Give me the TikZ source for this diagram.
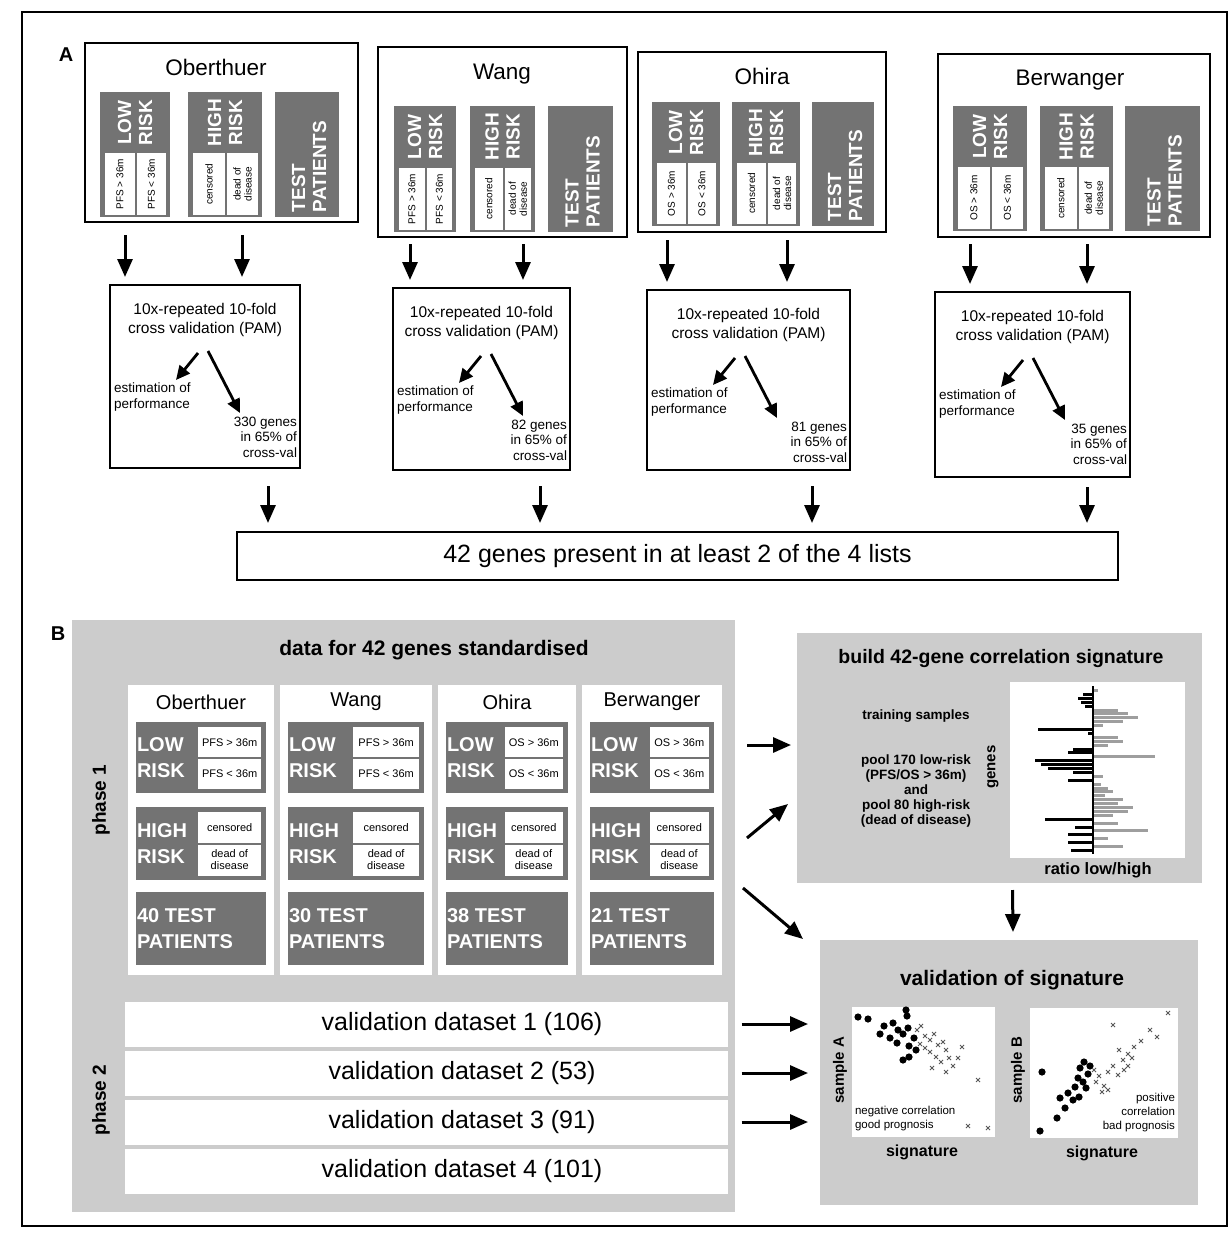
\documentclass[tikz,border=0pt]{standalone}
\usepackage{fontspec}
\setmainfont{Liberation Sans}
\usetikzlibrary{arrows.meta,calc}
\definecolor{darkg}{gray}{0.45}
\definecolor{panelg}{gray}{0.80}
\definecolor{barg}{gray}{0.62}
\newcommand{\fs}[2]{\fontsize{#1pt}{#2pt}\selectfont}
\tikzset{
  every node/.style={inner sep=0pt,outer sep=0pt},
  bx/.style={draw=black,line width=2.6pt,fill=white},
  cvb/.style={draw=black,line width=2.4pt,fill=white},
  arr/.style={-{Triangle[length=18pt,width=15pt]},line width=3pt},
  sarr/.style={-{Triangle[length=14pt,width=13pt]},line width=2.8pt},
  ttl/.style={font=\fs{22.5}{24}},
  cvt/.style={font=\fs{15.5}{19},align=center},
  smt/.style={font=\fs{13.5}{15.5}},
  bigw/.style={text=white,font=\bfseries\fs{19}{21},align=center},
  bigB/.style={text=white,font=\bfseries\fs{20}{26}},
  tinyA/.style={font=\fs{10}{11},align=center},
  tinyB/.style={font=\fs{11}{12},align=center},
  coltt/.style={font=\fs{20}{22}},
  rowb/.style={fill=white,minimum width=603pt,minimum height=45pt},
  rowt/.style={font=\fs{25}{27}},
  dot/.style={fill=black},
}
% part A: data set box
\newcommand{\dsA}[5]{%
  \node[bx,anchor=north west,minimum width={((#4)-(#2))*1pt},minimum height={((#5)-(#3))*1pt}] (#1) at (#2,#3) {};
}
% part A: vertical risk box
\newcommand{\vrisk}[8]{%
  \fill[darkg] ({#2},{#3}) rectangle ({(#2)+(#4)},{#5});
  \pgfmathsetmacro{\vsy}{(#3)+0.49*((#5)-(#3))}
  \pgfmathsetmacro{\vxm}{(#2)+(#4)/2}
  \fill[white] ({(#2)+5},{\vsy}) rectangle ({\vxm},{(#5)-2});
  \fill[white] ({\vxm+2},{\vsy}) rectangle ({(#2)+(#4)-4},{(#5)-2});
  \node[rotate=90,bigw] (#1-l) at ({\vxm},{((#3)+\vsy)/2}) {#6};
  \node[rotate=90,tinyA] (#1-a) at ({((#2)+5+\vxm)/2},{(\vsy+(#5)-2)/2}) {#7};
  \node[rotate=90,tinyA] (#1-b) at ({(\vxm+2+(#2)+(#4)-4)/2},{(\vsy+(#5)-2)/2}) {#8};
}
\newcommand{\vtest}[5]{%
  \fill[darkg] ({#2},{#3}) rectangle ({(#2)+(#4)},{#5});
  \node[rotate=90,bigw,align=left,anchor=west] (#1) at ({(#2)+(#4)/2+2},{(#5)-5}) {TEST\\PATIENTS};
}
% part A: cross validation box
\newcommand{\cvbox}[6]{%
  \node[cvb,anchor=north west,minimum width={((#4)-(#2))*1pt},minimum height={((#5)-(#3))*1pt}] (#1) at (#2,#3) {};
  \node[cvt] (#1-t) at ({((#2)+(#4))/2},{(#3)+35}) {10x-repeated 10-fold\\cross validation (PAM)};
  \draw[sarr] ($(#1.north west)+(88,68)$) -- ($(#1.north west)+(66,95)$);
  \draw[sarr] ($(#1.north west)+(98,66)$) -- ($(#1.north west)+(130,128)$);
  \node[smt,anchor=north west,align=left] (#1-e) at ($(#1.north west)+(4,98)$) {estimation of\\performance};
  \node[smt,anchor=north east,align=right] (#1-g) at ($(#1.north east)+(-3,132)$) {#6 genes\\in 65\% of\\cross-val};
}
% part B: horizontal risk box
\newcommand{\hrisk}[8]{%
  \fill[darkg] ({#2},{#3}) rectangle ({(#2)+(#4)},{(#3)+(#5)});
  \pgfmathsetmacro{\hxa}{(#2)+0.48*(#4)}
  \pgfmathsetmacro{\hxb}{(#2)+(#4)-5}
  \pgfmathsetmacro{\hya}{(#3)+5}
  \pgfmathsetmacro{\hym}{(#3)+(#5)/2}
  \pgfmathsetmacro{\hyb}{(#3)+(#5)-4}
  \fill[white] ({\hxa},{\hya}) rectangle ({\hxb},{\hym-1});
  \fill[white] ({\hxa},{\hym+1}) rectangle ({\hxb},{\hyb});
  \node[bigB,anchor=west,align=left] (#1-l) at ({(#2)+1},{\hym}) {#6};
  \node[tinyB] (#1-a) at ({(\hxa+\hxb)/2},{(\hya+\hym)/2}) {#7};
  \node[tinyB] (#1-b) at ({(\hxa+\hxb)/2},{(\hym+\hyb)/2}) {#8};
}
\newcommand{\colB}[7]{%
  \node[fill=white,anchor=north west,minimum width={(#3)*1pt},minimum height=290pt] (#1) at (#2,685) {};
  \node[coltt] (#1-t) at ({(#2)+(#3)/2},702) {#4};
  \hrisk{#1-low}{(#2)+8}{722}{(#3)-16}{71}{LOW\\RISK}{#5}{#6}
  \hrisk{#1-high}{(#2)+8}{807}{(#3)-16}{73}{HIGH\\RISK}{censored}{dead of\\disease}
  \fill[darkg] ({(#2)+8},892) rectangle ({(#2)+(#3)-8},965);
  \node[bigB,align=left,anchor=west] (#1-test) at ({(#2)+9},929) {#7 TEST\\PATIENTS};
}
\begin{document}
\begin{tikzpicture}[x=1pt,y=-1pt]
\useasboundingbox (0,0) rectangle (1230,1244);
\fill[white] (0,0) rectangle (1230,1244);
\draw[line width=1.2pt] (22,12) rectangle (1227,1226);

%================ PART A ================
\node[font=\bfseries\fs{20}{20}] (lA) at (66,55) {A};

\dsA{ob}{85}{43}{358}{222}
\node[ttl] (ob-t) at (216,67) {Oberthuer};
\vrisk{ob-low}{100}{92}{70}{217}{LOW\\RISK}{PFS > 36m}{PFS < 36m}
\vrisk{ob-high}{188}{92}{74}{217}{HIGH\\RISK}{censored}{dead of\\disease}
\vtest{ob-test}{275}{92}{64}{217}

\dsA{wa}{378}{47}{627}{237}
\node[ttl] (wa-t) at (502,74) {Wang};
\vrisk{wa-low}{394}{106}{62}{232}{LOW\\RISK}{PFS > 36m}{PFS < 36m}
\vrisk{wa-high}{470}{106}{65}{232}{HIGH\\RISK}{censored}{dead of\\disease}
\vtest{wa-test}{548}{106}{65}{232}

\dsA{oh}{638}{52}{886}{232}
\node[ttl] (oh-t) at (762,76) {Ohira};
\vrisk{oh-low}{652}{102}{68}{226}{LOW\\RISK}{OS > 36m}{OS < 36m}
\vrisk{oh-high}{732}{102}{68}{226}{HIGH\\RISK}{censored}{dead of\\disease}
\vtest{oh-test}{812}{102}{62}{226}

\dsA{be}{938}{54}{1210}{237}
\node[ttl] (be-t) at (1070,80) {Berwanger};
\vrisk{be-low}{953}{106}{74}{231}{LOW\\RISK}{OS > 36m}{OS < 36m}
\vrisk{be-high}{1040}{106}{73}{231}{HIGH\\RISK}{censored}{dead of\\disease}
\vtest{be-test}{1125}{106}{75}{231}

\cvbox{obcv}{110}{285}{300}{468}{330}
\cvbox{wacv}{393}{288}{570}{470}{82}
\cvbox{ohcv}{647}{290}{850}{470}{81}
\cvbox{becv}{935}{292}{1130}{477}{35}

% arrow columns
\coordinate (c1) at (125,0);  \coordinate (c2) at (242,0);
\coordinate (c3) at (410,0);  \coordinate (c4) at (523,0);
\coordinate (c5) at (667,0);  \coordinate (c6) at (787,0);
\coordinate (c7) at (970,0);  \coordinate (c8) at (1087,0);
\draw[arr] ($(ob.south -| c1)+(0,13)$) -- ($(obcv.north -| c1)+(0,-8)$);
\draw[arr] ($(ob.south -| c2)+(0,13)$) -- ($(obcv.north -| c2)+(0,-8)$);
\draw[arr] ($(wa.south -| c3)+(0,7)$) -- ($(wacv.north -| c3)+(0,-8)$);
\draw[arr] ($(wa.south -| c4)+(0,7)$) -- ($(wacv.north -| c4)+(0,-8)$);
\draw[arr] ($(oh.south -| c5)+(0,8)$) -- ($(ohcv.north -| c5)+(0,-8)$);
\draw[arr] ($(oh.south -| c6)+(0,8)$) -- ($(ohcv.north -| c6)+(0,-8)$);
\draw[arr] ($(be.south -| c7)+(0,7)$) -- ($(becv.north -| c7)+(0,-8)$);
\draw[arr] ($(be.south -| c8)+(0,7)$) -- ($(becv.north -| c8)+(0,-8)$);

\node[bx,line width=2pt,anchor=north west,minimum width=881pt,minimum height=48pt,font=\fs{25}{27}] (genes) at (237,532) {42 genes present in at least 2 of the 4 lists};

\coordinate (d1) at (268,0); \coordinate (d2) at (540,0);
\coordinate (d3) at (812,0); \coordinate (d4) at (1087,0);
\draw[arr] ($(obcv.south -| d1)+(0,18)$) -- ($(genes.north -| d1)+(0,-9)$);
\draw[arr] ($(wacv.south -| d2)+(0,16)$) -- ($(genes.north -| d2)+(0,-9)$);
\draw[arr] ($(ohcv.south -| d3)+(0,16)$) -- ($(genes.north -| d3)+(0,-9)$);
\draw[arr] ($(becv.south -| d4)+(0,10)$) -- ($(genes.north -| d4)+(0,-9)$);

%================ PART B ================
\node[font=\bfseries\fs{20}{20}] (lB) at (58,634) {B};
\node[fill=panelg,anchor=north west,minimum width=663pt,minimum height=592pt] (datap) at (72,620) {};
\node[font=\bfseries\fs{21}{22}] (datap-t) at (434,650) {data for 42 genes standardised};
\node[rotate=90,font=\bfseries\fs{19}{21}] (ph1) at (101,800) {phase 1};
\node[rotate=90,font=\bfseries\fs{19}{21}] (ph2) at (101,1100) {phase 2};

\colB{cob}{128}{146}{Oberthuer}{PFS > 36m}{PFS < 36m}{40}
\colB{cwa}{280}{152}{Wang}{PFS > 36m}{PFS < 36m}{30}
\colB{coh}{438}{138}{Ohira}{OS > 36m}{OS < 36m}{38}
\colB{cbe}{582}{140}{Berwanger}{OS > 36m}{OS < 36m}{21}

\node[rowb] (v1) at (426,1024) {};
\node[rowb] (v2) at (426,1073) {};
\node[rowb] (v3) at (426,1122) {};
\node[rowb] (v4) at (426,1171) {};
\node[rowt] (v1-t) at (462,1024) {validation dataset 1 (106)};
\node[rowt] (v2-t) at (462,1073) {validation dataset 2 (53)};
\node[rowt] (v3-t) at (462,1122) {validation dataset 3 (91)};
\node[rowt] (v4-t) at (462,1171) {validation dataset 4 (101)};

% signature panel
\node[fill=panelg,anchor=north west,minimum width=405pt,minimum height=250pt] (sig) at (797,633) {};
\node[font=\bfseries\fs{19.5}{21}] (sig-t) at (1001,658) {build 42-gene correlation signature};
\node[font=\bfseries\fs{13.5}{15},align=center] (sig-x) at (916,768) {training samples\\[30pt]pool 170 low-risk\\(PFS/OS > 36m)\\and\\pool 80 high-risk\\(dead of disease)};
\node[rotate=90,font=\bfseries\fs{15}{16}] (sig-g) at (993,767) {genes};
\node[fill=white,anchor=north west,minimum width=175pt,minimum height=176pt] (bars) at (1010,682) {};
\foreach \v [count=\i from 0] in {5,-10,-15,-12,-8,25,35,45,30,10,-55,-5,25,30,15,-20,-25,62,-58,-52,-45,-20,10,-25,8,15,20,12,30,25,40,35,20,-48,25,-18,55,-25,15,-25,30,-22}{
  \ifnum\v<0 \def\bcol{black}\else\def\bcol{barg}\fi
  \fill[\bcol] (1093,{689+\i*3.9}) rectangle ({1093+\v},{689+\i*3.9+3});
}
\draw[line width=1.4pt] (1093,686) -- (1093,854);
\node[font=\bfseries\fs{16.5}{18}] (sig-r) at (1098,870) {ratio low/high};

% validation panel
\node[fill=panelg,anchor=north west,minimum width=378pt,minimum height=265pt] (val) at (820,940) {};
\node[font=\bfseries\fs{21}{22}] (val-t) at (1012,980) {validation of signature};
\node[fill=white,anchor=north west,minimum width=143pt,minimum height=130pt] (pa) at (852,1007) {};
\node[fill=white,anchor=north west,minimum width=148pt,minimum height=130pt] (pb) at (1030,1008) {};
\node[rotate=90,font=\bfseries\fs{15}{16}] (pa-y) at (840,1070) {sample A};
\node[rotate=90,font=\bfseries\fs{15}{16}] (pb-y) at (1018,1070) {sample B};
\node[font=\bfseries\fs{16}{17}] (pa-x) at (922,1152) {signature};
\node[font=\bfseries\fs{16}{17}] (pb-x) at (1102,1153) {signature};
\node[font=\fs{11.5}{14},align=left,anchor=north west] (pa-n) at (855,1106) {negative correlation\\good prognosis};
\node[font=\fs{11.5}{14},align=right,anchor=north east] (pb-n) at (1175,1093) {positive\\correlation\\bad prognosis};
\foreach \x/\y in {858/1017,868/1019,906/1010,907/1016,884/1026,893/1023,898/1030,903/1034,890/1038,908/1028,914/1038,909/1046,916/1050,903/1060,909/1057,897/1043,880/1034,
  1042/1072,1040/1131,1057/1118,1065/1108,1060/1098,1068/1093,1075/1087,1078/1078,1080/1068,1084/1062,1090/1066,1079/1097,1083/1082,1086/1088,1073/1100,1088/1074}{
  \fill[dot] (\x,\y) circle (3.6);
}
\foreach \x/\y in {917/1030,921/1026,925/1036,930/1040,934/1034,938/1045,943/1042,946/1050,930/1052,936/1057,941/1062,949/1058,953/1066,946/1072,932/1068,962/1047,958/1058,978/1080,968/1126,988/1128,925/1048,920/1044,
  1096/1082,1099/1076,1104/1086,1108/1072,1113/1066,1118/1075,1123/1060,1128/1066,1132/1058,1119/1050,1134/1047,1141/1041,1150/1030,1157/1037,1168/1013,1113/1025,1128/1054,1102/1092,1108/1090,1094/1070,1124/1070}{
  \draw[gray!70!black,line width=0.9pt] ({\x-2},{\y-2}) -- ({\x+2},{\y+2}) ({\x-2},{\y+2}) -- ({\x+2},{\y-2});
}

% connectors part B
\draw[arr] ($(datap.north east)+(12,125)$) -- ($(sig.north west)+(-6,112)$);
\draw[arr] ($(datap.north east)+(12,218)$) -- ($(sig.north west)+(-9,171)$);
\draw[arr] ($(datap.north east)+(8,268)$) -- ($(val.north west)+(-17,-1)$);
\draw[arr] ($(sig.south)+(13,7)$) -- ($(val.north)+(4,-8)$);
\draw[arr] ($(v1.east)+(14,0)$) -- ($(v1.east -| val.west)+(-12,0)$);
\draw[arr] ($(v2.east)+(14,0)$) -- ($(v2.east -| val.west)+(-12,0)$);
\draw[arr] ($(v3.east)+(14,0)$) -- ($(v3.east -| val.west)+(-12,0)$);
\end{tikzpicture}
\end{document}
